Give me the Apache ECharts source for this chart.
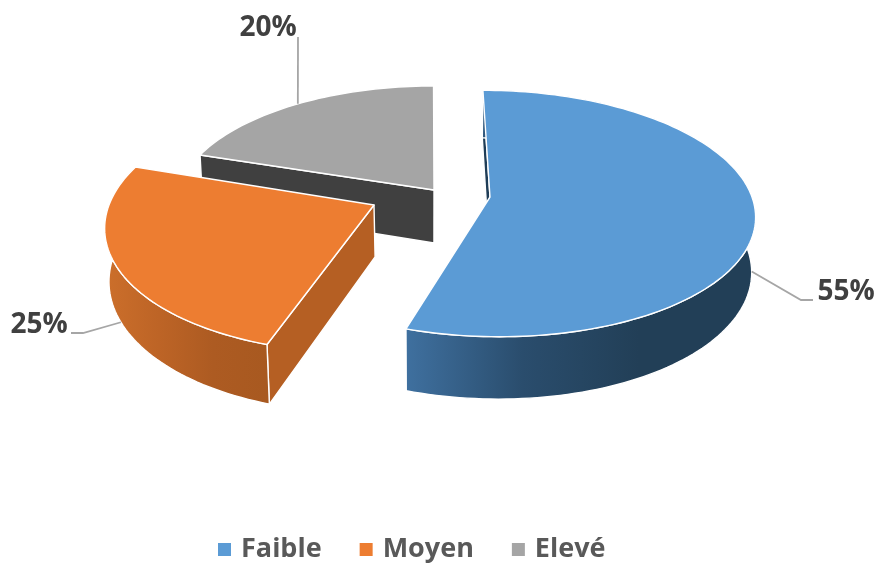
<!DOCTYPE html>
<html><head><meta charset="utf-8">
<style>html,body{margin:0;padding:0;background:#fff}#c{width:877px;height:563px}</style>
<script src="https://cdn.jsdelivr.net/npm/echarts@6/dist/echarts.min.js"></script>
</head><body><div id="c"></div>
<script>
const categories = ['Faible', 'Moyen', 'Elevé'];
const values = [55, 25, 20];
const topColors = ['#5b9bd5', '#ed7d31', '#a5a5a5'];
const wallStops = [['#3f709f', '#2a4d6d', '#223f57', '#223f57'], ['#cc6f2b', '#bd6426', '#ad5b22', '#a85920'], ['#404040', '#404040', '#404040', '#404040']];
const startWalls = ['#1f3d57', '#b55f23', '#404040'];
const arcWallVisible = [true, true, false];

// Projection of the tilted, exploded pie
const apexX = [490, 374, 434];
const apexY = [197, 205, 190];
const radiusX = [262, 265, 256];
const radiusY = [121, 128, 118];
const vanishX = [430, 464, 430];
const thick = [54, 52, 53];
const persp = 0.134, bottomScale = 0.988, startDeg = 0;
// Data label placement: anchor on the top (0) or bottom (1) edge, elbow, label centre
const labelOnBottom = [1, 1, 0];
const elbowA = [[801, 300], [83, 333], [298, 37]];
const elbowB = [[813, 300], [71, 333], [298, 37]];
const labelPos = [[846, 292], [39, 325], [268, 28]];

const total = values.reduce((a, b) => a + b, 0);
function project(i, deg, radial, low) {
  const t = deg * Math.PI / 180, u = Math.sin(t) * radial, v = Math.cos(t) * radial;
  const w = 1 + persp * v;
  let x = apexX[i] + radiusX[i] * u / w + (apexX[i] - vanishX[i]) * (1 / w - 1);
  let y = apexY[i] - radiusY[i] * v / w;
  if (low) { x = vanishX[i] + (x - vanishX[i]) * bottomScale; y += thick[i] / w; }
  return [x, y];
}
function arc(i, a, b, low) {
  const pts = [], n = Math.ceil(Math.abs(b - a) / 1.5);
  for (let k = 0; k <= n; k++) pts.push(project(i, a + (b - a) * k / n, 1, low));
  return pts;
}
const edge = { stroke: '#fff', lineWidth: 1.4, lineJoin: 'round' };
function makeRender(i) {
  return function () {
    const a = startDeg + 360 * values.slice(0, i).reduce((s, x) => s + x, 0) / total;
    const b = a + 360 * values[i] / total;
    const topArc = arc(i, a, b, false), lowArc = arc(i, a, b, true);
    const apex = project(i, a, 0, false), apexLow = project(i, a, 0, true);
    const xs = topArc.map(p => p[0]);
    const grad = new echarts.graphic.LinearGradient(Math.min(...xs), 0, Math.max(...xs), 0,
      wallStops[i].map((c, k) => ({ offset: k / 3, color: c })), true);
    const mid = (a + b) / 2;
    const anchor = project(i, mid, 1, !!labelOnBottom[i]);
    const children = [
      { type: 'polygon', shape: { points: [topArc[0], apex, apexLow, lowArc[0]] },
        style: Object.assign({ fill: startWalls[i] }, edge) }
    ];
    if (arcWallVisible[i]) children.push(
      { type: 'polygon', shape: { points: topArc.concat(lowArc.slice().reverse()) },
        style: Object.assign({ fill: grad }, edge) });
    children.push(
      { type: 'polygon', shape: { points: [apex].concat(topArc) },
        style: Object.assign({ fill: topColors[i] }, edge) },
      { type: 'polyline', shape: { points: [anchor, elbowA[i], elbowB[i]] },
        style: { fill: 'none', stroke: '#a6a6a6', lineWidth: 1.8 } },
      { type: 'text', style: { text: values[i] + '%', x: labelPos[i][0], y: labelPos[i][1],
        align: 'center', verticalAlign: 'middle', fill: '#404040',
        font: 'bold 28px "Open Sans", sans-serif' } }
    );
    return { type: 'group', children };
  };
}
const chart = echarts.init(document.getElementById('c'), null, { renderer: 'canvas' });
chart.setOption({
  animation: false,
  backgroundColor: '#fff',
  legend: {
    data: categories, left: 213, top: 531, icon: 'rect', itemWidth: 13, itemHeight: 13,
    itemGap: 38, selectedMode: false,
    textStyle: { color: '#595959', fontSize: 27, fontWeight: 'bold', fontFamily: '"Open Sans", sans-serif', padding: [0, 0, 0, 5] }
  },
  series: categories.map((name, i) => ({
    type: 'custom', name, coordinateSystem: 'none', silent: true, z: 3 - i,
    itemStyle: { color: topColors[i] },
    data: [[values[i]]], renderItem: makeRender(i)
  }))
});
</script></body></html>
